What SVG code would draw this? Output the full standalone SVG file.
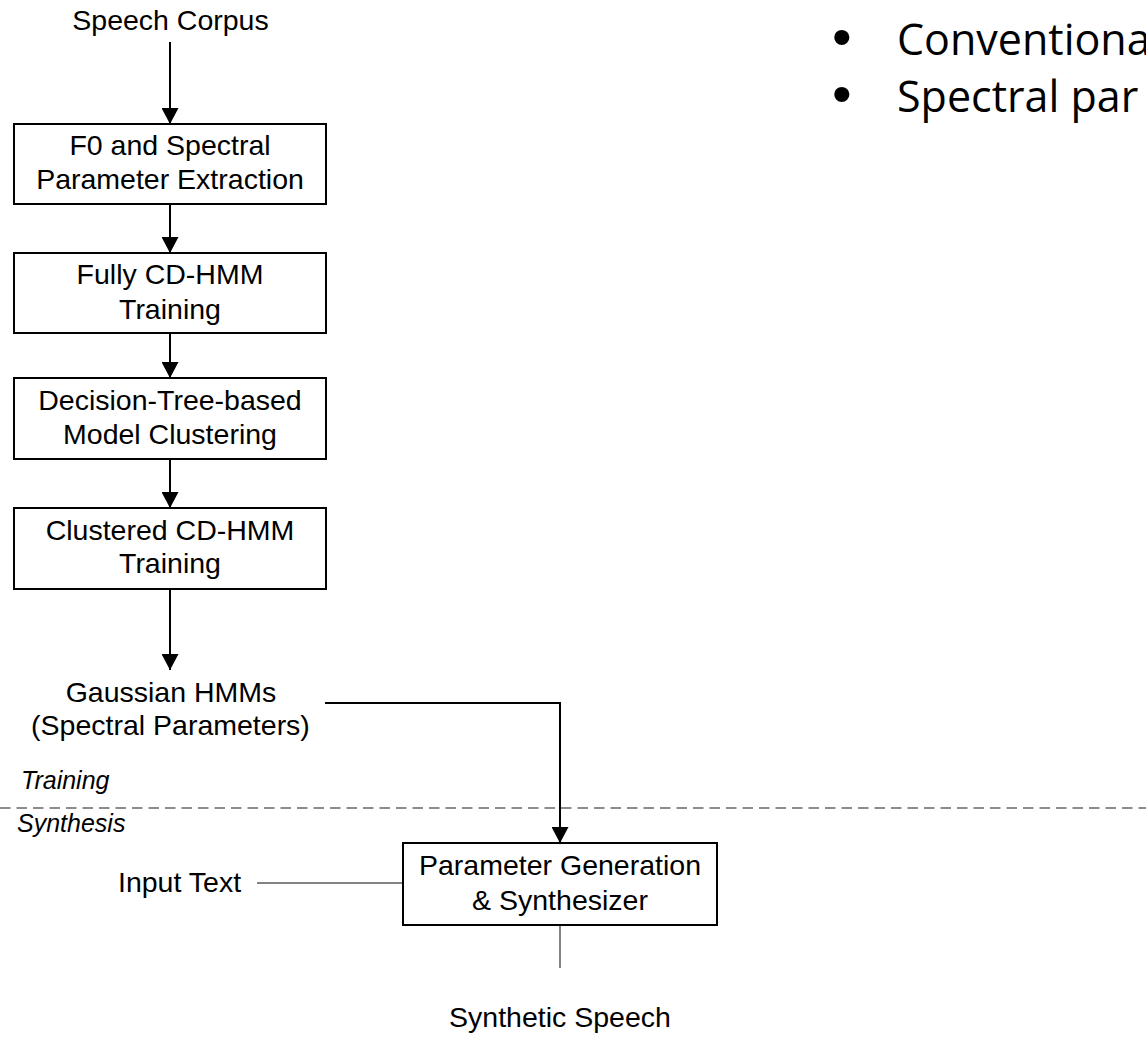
<svg xmlns="http://www.w3.org/2000/svg" width="1146" height="1037" viewBox="0 0 1146 1037">
  <defs>
    <marker id="arrowhead" markerUnits="userSpaceOnUse" markerWidth="17" markerHeight="17" refX="16" refY="8.5" orient="auto">
      <path d="M0,0 L16,8.5 L0,17 z" fill="#000"/>
    </marker>
    <style>
      .lbl { font-family: "Liberation Sans", Arial, sans-serif; font-size: 28.5px; fill: #000; }
      .mid { text-anchor: middle; }
      .phase { font-family: "Liberation Sans", Arial, sans-serif; font-size: 25px; font-style: italic; fill: #000; }
      .bullet { font-family: "Open Sans", "Noto Sans", sans-serif; font-size: 43px; fill: #000; }
      .dot { font-family: "Liberation Sans", Arial, sans-serif; font-size: 56px; fill: #000; }
      .box { fill: #fff; stroke: #000; stroke-width: 2; }
      .flow { fill: none; stroke: #000; stroke-width: 2; marker-end: url(#arrowhead); }
      .thin { fill: none; stroke: #5a5a5a; stroke-width: 1.5; }
      .divider { fill: none; stroke: #8c8c8c; stroke-width: 2; stroke-dasharray: 10.5 6; }
    </style>
  </defs>

  <rect x="0" y="0" width="1146" height="1037" fill="#fff"/>

  <!-- slide bullet points -->
  <g id="bullets">
    <text class="dot" x="832" y="56">•</text>
    <text class="bullet" x="897" y="55">Conventiona</text>
    <text class="dot" x="832" y="113">•</text>
    <text class="bullet" x="897" y="112">Spectral par</text>
  </g>

  <!-- training / synthesis divider -->
  <g id="divider">
    <line class="divider" x1="0" y1="808" x2="1146" y2="808"/>
    <text class="phase" x="21" y="789">Training</text>
    <text class="phase" x="17" y="832">Synthesis</text>
  </g>

  <!-- connectors -->
  <g id="connectors">
    <line class="flow" x1="170" y1="42" x2="170" y2="124"/>
    <line class="flow" x1="170" y1="204" x2="170" y2="253"/>
    <line class="flow" x1="170" y1="333" x2="170" y2="378"/>
    <line class="flow" x1="170" y1="459" x2="170" y2="508"/>
    <line class="flow" x1="170" y1="589" x2="170" y2="670"/>
    <polyline class="flow" points="325,703 560,703 560,843"/>
    <line class="thin" x1="257" y1="883" x2="403" y2="883"/>
    <line class="thin" x1="560" y1="925" x2="560" y2="968"/>
  </g>

  <g id="speech-corpus">
    <text class="lbl mid" x="170.5" y="30">Speech Corpus</text>
  </g>

  <g id="extraction">
    <rect class="box" x="14" y="124" width="312" height="80"/>
    <text class="lbl mid" x="170" y="155">F0 and Spectral</text>
    <text class="lbl mid" x="170" y="189">Parameter Extraction</text>
  </g>

  <g id="cd-hmm-training">
    <rect class="box" x="14" y="253" width="312" height="80"/>
    <text class="lbl mid" x="170" y="284">Fully CD-HMM</text>
    <text class="lbl mid" x="170" y="319">Training</text>
  </g>

  <g id="tree-clustering">
    <rect class="box" x="14" y="378" width="312" height="81"/>
    <text class="lbl mid" x="170" y="410">Decision-Tree-based</text>
    <text class="lbl mid" x="170" y="444">Model Clustering</text>
  </g>

  <g id="clustered-training">
    <rect class="box" x="14" y="508" width="312" height="81"/>
    <text class="lbl mid" x="170" y="540">Clustered CD-HMM</text>
    <text class="lbl mid" x="170" y="573">Training</text>
  </g>

  <g id="gaussian-hmms">
    <text class="lbl mid" x="171" y="702">Gaussian HMMs</text>
    <text class="lbl mid" x="170.5" y="735">(Spectral Parameters)</text>
  </g>

  <g id="input-text">
    <text class="lbl" x="118" y="892">Input Text</text>
  </g>

  <g id="generation">
    <rect class="box" x="403" y="843" width="314" height="82"/>
    <text class="lbl mid" x="560" y="875">Parameter Generation</text>
    <text class="lbl mid" x="560" y="910">&amp; Synthesizer</text>
  </g>

  <g id="synthetic-speech">
    <text class="lbl mid" x="560" y="1027">Synthetic Speech</text>
  </g>
</svg>
